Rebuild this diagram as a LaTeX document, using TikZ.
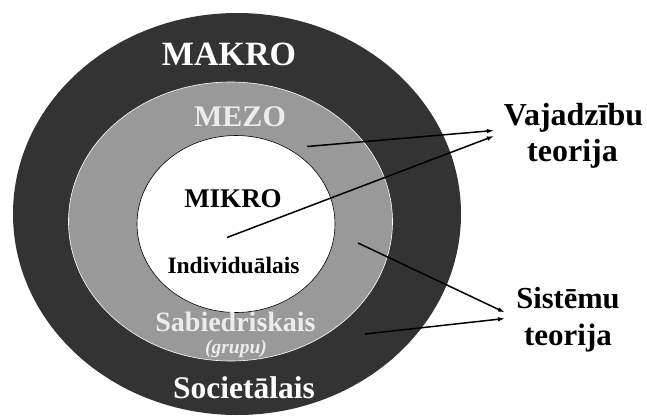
\documentclass[tikz,border=0pt]{standalone}
\usepackage{fontspec}
\setmainfont{Liberation Serif}
\usepackage{tikz}
\usetikzlibrary{
  arrows.meta,
  positioning,
  shapes.geometric,
}
\definecolor{makrogray}{RGB}{51, 51, 51}
\definecolor{mezogray}{RGB}{153, 153, 153}
\definecolor{labelgray}{RGB}{236, 236, 236}
\tikzstyle{level} = [
  ellipse,
  inner sep=0pt,
]
\tikzstyle{arrow} = [
  -{Latex[length=7pt, width=4.5pt]},
  line width=1.5pt,
  black,
]
\tikzstyle{levtext} = [
  anchor=base,
  inner sep=0pt,
  font=\bfseries,
]

\begin{document}
\begin{tikzpicture}[x=1pt, y=-1pt]
        \useasboundingbox (0,0) rectangle (647,415);

        %% the three levels
        \node [level, fill=makrogray, minimum width=448pt, minimum height=402pt] (makro) at (237, 214) {};
        \node [level, fill=mezogray, draw=white, line width=0.6pt, minimum width=324pt, minimum height=279pt] (mezo) at (230.5, 221.5) {};
        \node [level, fill=white, draw=black, line width=0.6pt, minimum width=198pt, minimum height=177pt] (mikro) at (236, 224) {};

        %% level names
        \node [levtext, text=white, font=\bfseries\fontsize{34}{34}\selectfont] (makrot) at (229, 65) {MAKRO};
        \node [levtext, text=labelgray, font=\bfseries\fontsize{30}{30}\selectfont] (mezot) at (240, 126) {MEZO};
        \node [levtext, font=\bfseries\fontsize{27}{27}\selectfont] (mikrot) at (233, 207) {MIKRO};
        \node [levtext, font=\bfseries\fontsize{23.5}{23.5}\selectfont] (indiv) at (233.5, 273) {Individuālais};
        \node [levtext, text=labelgray, font=\bfseries\fontsize{28}{28}\selectfont] (sabied) at (235.5, 331.5) {Sabiedriskais};
        \node [levtext, text=labelgray, font=\bfseries\itshape\fontsize{19.5}{19.5}\selectfont] (grupu) at (236, 353) {(grupu)};
        \node [levtext, text=white, font=\bfseries\fontsize{31.5}{31.5}\selectfont] (societ) at (244, 398) {Societālais};

        %% theories
        \node [levtext, font=\bfseries\fontsize{32}{32}\selectfont] (vajadz) at (573.5, 125) {Vajadzību};
        \node [levtext, font=\bfseries\fontsize{32}{32}\selectfont] (vteor) at (572.5, 161.5) {teorija};
        \node [levtext, font=\bfseries\fontsize{30.5}{30.5}\selectfont] (sistem) at (568, 308) {Sistēmu};
        \node [levtext, font=\bfseries\fontsize{31}{31}\selectfont] (steor) at (568, 345) {teorija};

        %% arrows
        \coordinate (mezofrom) at (307, 146.5);
        \coordinate (mikrofrom) at (227, 237.5);
        \coordinate (sabfrom) at (358, 243);
        \coordinate (socfrom) at (365, 334);
        \coordinate (vtip1) at (494, 130.5);
        \coordinate (vtip2) at (494, 136);
        \coordinate (stip1) at (505, 312.5);
        \coordinate (stip2) at (505, 318.5);

        \draw [arrow] (mezofrom) -- (vtip1);
        \draw [arrow] (mikrofrom) -- (vtip2);
        \draw [arrow] (sabfrom) -- (stip1);
        \draw [arrow] (socfrom) -- (stip2);
\end{tikzpicture}
\end{document}
